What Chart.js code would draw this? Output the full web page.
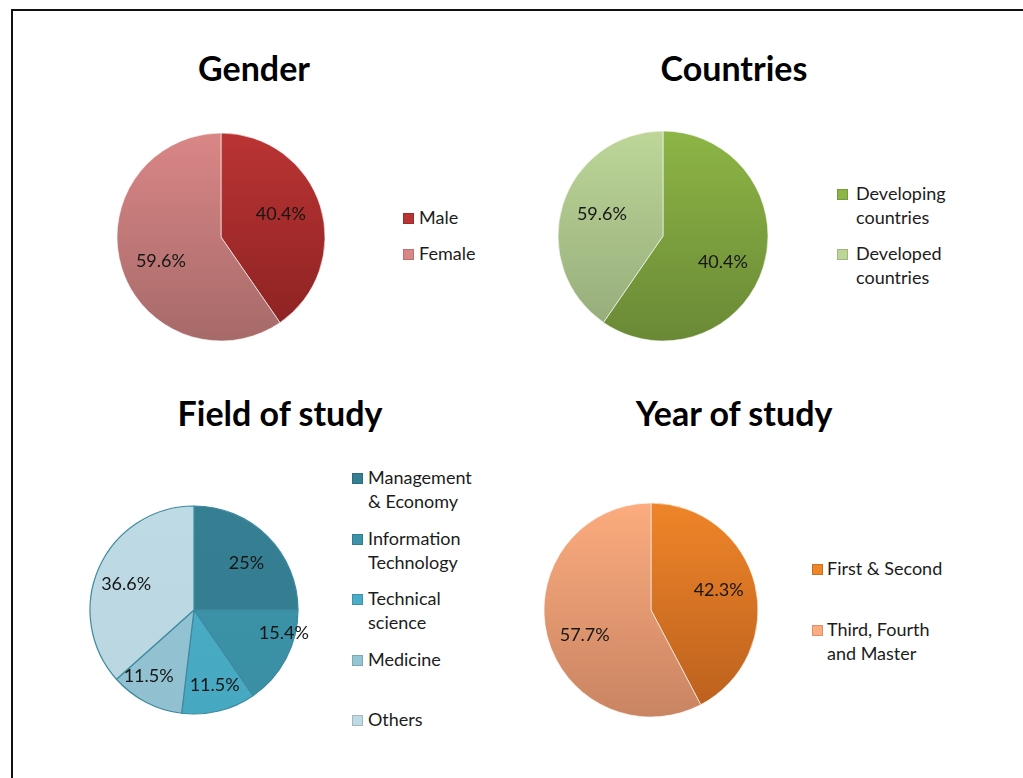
<!DOCTYPE html>
<html>
<head>
<meta charset="utf-8">
<script src="https://cdn.jsdelivr.net/npm/chart.js@4.4.1/dist/chart.umd.min.js"></script>
<style>
    body { margin: 0; background: #fff; width: 1023px; height: 778px; overflow: hidden; position: relative; font-family: "Lato", "Open Sans", sans-serif; }
    .frame { position: absolute; left: 11px; top: 9px; width: 1100px; height: 900px; border-left: 2px solid #111; border-top: 2px solid #111; }
    .title { position: absolute; transform: translateX(-50%); font-weight: bold; font-size: 34px; line-height: 40px; color: #000; white-space: nowrap; }
    .legend { position: absolute; color: #1c1c1c; font-size: 18px; line-height: 24px; }
    .legend .item { position: relative; white-space: pre-line; }
    .legend .box { position: absolute; left: 0; top: 8px; width: 9px; height: 9px; border: 1px solid rgba(0,0,0,0.15); }
    canvas { position: absolute; }
</style>
</head>
<body>
<div class="frame"></div>

<script>
// Gender
const genderLabels = ['Male', 'Female'];
const genderValues = [40.4, 59.6];

// Countries (the printed percentages are swapped in the source picture)
const countryLabels = ['Developing\ncountries', 'Developed\ncountries'];
const countryValues = [59.6, 40.4];
const countryText = ['40.4%', '59.6%'];

// Field of study
const fieldLabels = ['Management\n& Economy', 'Information\nTechnology', 'Technical\nscience', 'Medicine', 'Others'];
const fieldValues = [25, 15.4, 11.5, 11.5, 36.6];

// Year of study
const yearLabels = ['First & Second', 'Third, Fourth\nand Master'];
const yearValues = [42.3, 57.7];

const SIZE = 260;

function pct(values) {
    return values.map(v => v + '%');
}

function addTitle(text, cx, cy) {
    const el = document.createElement('div');
    el.className = 'title';
    el.textContent = text;
    el.style.left = cx + 'px';
    el.style.top = (cy - 22) + 'px';
    document.body.appendChild(el);
}

function addLegend(labels, colors, boxX, textX, firstY, spacing) {
    const wrap = document.createElement('div');
    wrap.className = 'legend';
    wrap.style.left = boxX + 'px';
    wrap.style.top = (firstY - 13) + 'px';
    labels.forEach((label, i) => {
        const item = document.createElement('div');
        item.className = 'item';
        item.style.height = spacing + 'px';
        item.style.paddingLeft = (textX - boxX) + 'px';
        const box = document.createElement('span');
        box.className = 'box';
        box.style.background = colors[i][0];
        item.appendChild(box);
        item.appendChild(document.createTextNode(label));
        wrap.appendChild(item);
    });
    document.body.appendChild(wrap);
}

// draws the percentage text inside each slice
const sliceText = {
    id: 'sliceText',
    afterDatasetsDraw(chart, args, opts) {
        const ctx = chart.ctx;
        const arcs = chart.getDatasetMeta(0).data;
        ctx.save();
        ctx.font = '18px Lato, "Open Sans", sans-serif';
        ctx.fillStyle = '#161616';
        ctx.textAlign = 'center';
        ctx.textBaseline = 'middle';
        arcs.forEach((arc, i) => {
            const p = arc.getProps(['x', 'y', 'startAngle', 'endAngle', 'outerRadius'], true);
            const mid = (p.startAngle + p.endAngle) / 2 + (opts.turn ? opts.turn[i] : 0);
            const f = Array.isArray(opts.pos) ? opts.pos[i] : opts.pos;
            ctx.fillText(opts.text[i], p.x + Math.cos(mid) * p.outerRadius * f, p.y + Math.sin(mid) * p.outerRadius * f + 1);
        });
        ctx.restore();
    }
};

function makePie(cfg) {
    const canvas = document.createElement('canvas');
    canvas.width = SIZE;
    canvas.height = SIZE;
    canvas.style.left = (cfg.cx - SIZE / 2) + 'px';
    canvas.style.top = (cfg.cy - SIZE / 2) + 'px';
    document.body.appendChild(canvas);

    const c = SIZE / 2;
    new Chart(canvas, {
        type: 'pie',
        data: {
            labels: cfg.labels,
            datasets: [{
                data: cfg.values,
                backgroundColor: function(context) {
                    const pair = cfg.colors[context.dataIndex];
                    const g = context.chart.ctx.createLinearGradient(0, c - cfg.r, 0, c + cfg.r);
                    g.addColorStop(0, pair[0]);
                    g.addColorStop(1, pair[1]);
                    return g;
                },
                borderColor: cfg.border,
                borderWidth: cfg.borderWidth,
                hoverOffset: 0
            }]
        },
        options: {
            responsive: false,
            animation: false,
            radius: cfg.r,
            layout: { padding: 0 },
            events: [],
            plugins: {
                legend: { display: false },
                tooltip: { enabled: false },
                sliceText: { text: cfg.text, pos: cfg.pos, turn: cfg.turn }
            }
        },
        plugins: [sliceText]
    });

    addTitle(cfg.title, cfg.titleX, cfg.titleY);
    addLegend(cfg.legendLabels || cfg.labels, cfg.colors, cfg.boxX, cfg.textX, cfg.firstY, cfg.spacing);
}

function renderCharts() {
    makePie({
        title: 'Gender', titleX: 254, titleY: 70,
        cx: 221, cy: 237, r: 104,
        labels: genderLabels, values: genderValues, text: pct(genderValues),
        colors: [['#bb3434', '#8a2121'], ['#da8686', '#a66a69']],
        border: 'rgba(255,255,255,0.6)', borderWidth: 1,
        pos: 0.62, turn: [-0.08, -0.07],
        boxX: 403, textX: 419, firstY: 218, spacing: 36
    });

    makePie({
        title: 'Countries', titleX: 734, titleY: 70,
        cx: 663, cy: 236, r: 105,
        labels: countryLabels, values: countryValues, text: countryText,
        colors: [['#8db545', '#6a8936'], ['#bdd698', '#93aa78']],
        border: 'rgba(255,255,255,0.6)', borderWidth: 1,
        pos: 0.62, turn: [0.1, 0.05],
        boxX: 837, textX: 856, firstY: 194, spacing: 60
    });

    makePie({
        title: 'Field of study', titleX: 280, titleY: 415,
        cx: 194, cy: 610, r: 104,
        labels: fieldLabels, values: fieldValues, text: pct(fieldValues),
        colors: [['#367f93', '#347b8f'], ['#3c93a9', '#3a8fa4'], ['#4aadc7', '#47a8c1'], ['#94c5d5', '#91c1d1'], ['#bddae5', '#b9d6e1']],
        border: '#3d8aa0', borderWidth: 1.2,
        pos: [0.68, 0.89, 0.74, 0.76, 0.70],
        turn: [0.05, -0.24, -0.03, 0.13, -0.05],
        boxX: 352, textX: 368, firstY: 478, spacing: 60.5
    });

    makePie({
        title: 'Year of study', titleX: 734, titleY: 415,
        cx: 651, cy: 610, r: 107,
        labels: yearLabels, values: yearValues, text: pct(yearValues),
        colors: [['#ef8529', '#b95f1d'], ['#fcac7e', '#c98462']],
        border: 'rgba(255,255,255,0.6)', borderWidth: 1,
        pos: 0.66, turn: [-0.05, -0.11],
        boxX: 812, textX: 827, firstY: 569, spacing: 61
    });
}

if (document.readyState === 'loading') {
    document.addEventListener('DOMContentLoaded', renderCharts);
} else {
    renderCharts();
}
</script>
</body>
</html>
